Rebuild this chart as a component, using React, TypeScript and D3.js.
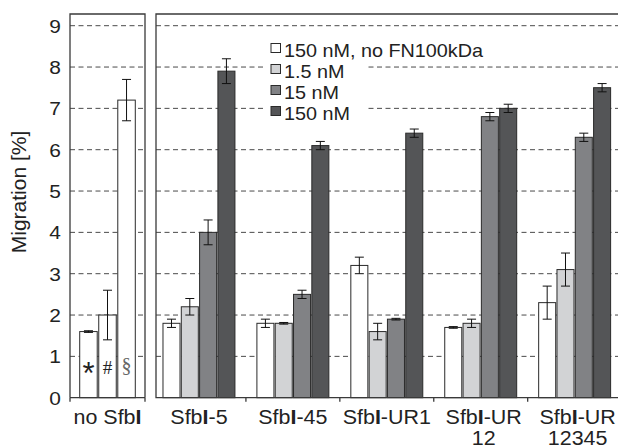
import React from "react";
import * as d3 from "d3";

// chart values
const yTicks = [0, 1, 2, 3, 4, 5, 6, 7, 8, 9];
const series = ["150 nM, no FN100kDa", "1.5 nM", "15 nM", "150 nM"];
const seriesColors = ["#ffffff", "#d2d3d5", "#818285", "#545557"];

const controlBars = ["*", "#", "§"];
const controlValues = [1.6, 2.0, 7.2];
const controlErrors = [0.02, 0.6, 0.5];

const groups = ["SfbI-5", "SfbI-45", "SfbI-UR1", "SfbI-UR12", "SfbI-UR12345"];
const groupLabels = [["SfbI-5"], ["SfbI-45"], ["SfbI-UR1"], ["SfbI-UR", "12"], ["SfbI-UR", "12345"]];
const noFN = [1.8, 1.8, 3.2, 1.7, 2.3];
const noFNErr = [0.1, 0.1, 0.2, 0.02, 0.4];
const nM1_5 = [2.2, 1.8, 1.6, 1.8, 3.1];
const nM1_5Err = [0.2, 0.02, 0.2, 0.1, 0.4];
const nM15 = [4.0, 2.5, 1.9, 6.8, 6.3];
const nM15Err = [0.3, 0.1, 0.02, 0.1, 0.1];
const nM150 = [7.9, 6.1, 6.4, 7.0, 7.5];
const nM150Err = [0.3, 0.1, 0.1, 0.1, 0.1];

const seriesValues = [noFN, nM1_5, nM15, nM150];
const seriesErrors = [noFNErr, nM1_5Err, nM15Err, nM150Err];

const W = 618;
const H = 448;
const top = 14;
const bottom = 397.7;
const leftL = 70;
const leftR = 145;
const rightL = 156;
const SX = 1.1; // the original glyphs are a bit stretched horizontally
const FONT = "'Liberation Sans', Arial, Helvetica, sans-serif";
const SERIF = "'Liberation Serif', 'Times New Roman', serif";

// label like "SfbI-5" with the capital I in bold
const SfbLabel = ({ s }: { s: string }) => {
  const i = s.indexOf("SfbI");
  if (i < 0) return <>{s}</>;
  return (
    <>
      {s.slice(0, i)}Sfb<tspan fontWeight="bold">I</tspan>{s.slice(i + 4)}
    </>
  );
};

export default function App() {
  const y = d3.scaleLinear().domain([0, 9]).range([bottom, 25.7]);

  const xCtrl = d3.scaleBand<string>().domain(["no SfbI"]).range([leftL, leftR]);
  const xCtrlInner = d3
    .scaleBand<string>()
    .domain(controlBars)
    .range([0, xCtrl.bandwidth()])
    .paddingInner(0.08)
    .paddingOuter(0.51);

  const x0 = d3.scaleBand<string>().domain(groups).range([152, 621.6]);
  const x1 = d3
    .scaleBand<string>()
    .domain(series)
    .range([0, x0.bandwidth()])
    .paddingInner(0.07)
    .paddingOuter(0.6);

  const errBar = (cx: number, v: number, e: number, key: string) => (
    <g key={key} stroke="#111" strokeWidth={1}>
      <line x1={cx} x2={cx} y1={y(v + e)} y2={y(v - e)} />
      <line x1={cx - 4.5} x2={cx + 4.5} y1={y(v + e)} y2={y(v + e)} />
      <line x1={cx - 4.5} x2={cx + 4.5} y1={y(v - e)} y2={y(v - e)} />
    </g>
  );

  const gridVals = yTicks.filter((t) => t > 0);
  const lx = 271;
  const ly0 = 50.5;
  const lStep = 21;

  return (
    <svg
      width={W}
      height={H}
      style={{ position: "absolute", left: 0, top: 0, background: "#fff" }}
      fontFamily={FONT}
    >
      <rect width={W} height={H} fill="#fff" />

      {/* gridlines */}
      <g stroke="#4a4a4a" strokeWidth={1} strokeDasharray="5,3.5">
        {gridVals.map((t) => (
          <line key={"gl" + t} x1={leftL} x2={leftR} y1={y(t)} y2={y(t)} />
        ))}
        {gridVals.map((t) => (
          <line key={"gr" + t} x1={rightL} x2={W} y1={y(t)} y2={y(t)} />
        ))}
      </g>

      {/* y tick labels */}
      {yTicks.map((t) => (
        <text
          key={"yt" + t}
          transform={`translate(61,${y(t)}) scale(${SX},1)`}
          dy="0.36em"
          textAnchor="end"
          fontSize={19}
          fill="#222"
        >
          {t}
        </text>
      ))}

      <text
        transform={`translate(26,192) rotate(-90)`}
        textAnchor="middle"
        fontSize={21}
        fill="#222"
      >
        Migration [%]
      </text>

      {/* control panel bars */}
      {controlBars.map((b, i) => {
        const bx = (xCtrl("no SfbI") ?? 0) + (xCtrlInner(b) ?? 0);
        const bw = xCtrlInner.bandwidth();
        return (
          <g key={"cb" + i}>
            <rect
              x={bx}
              y={y(controlValues[i])}
              width={bw}
              height={bottom - y(controlValues[i])}
              fill={seriesColors[0]}
              stroke="#2a2a2a"
              strokeWidth={1}
            />
            {errBar(bx + bw / 2, controlValues[i], controlErrors[i], "ce" + i)}
          </g>
        );
      })}
      {(() => {
        const cx = (b: string) =>
          (xCtrl("no SfbI") ?? 0) + (xCtrlInner(b) ?? 0) + xCtrlInner.bandwidth() / 2;
        return (
          <g>
            <text x={cx("*")} y={384} textAnchor="middle" fontSize={31} fill="#222">
              *
            </text>
            <text x={cx("#")} y={373.5} textAnchor="middle" fontSize={19} fontFamily={SERIF} fill="#222">
              #
            </text>
            <text x={cx("§")} y={372} textAnchor="middle" fontSize={20} fontFamily={SERIF} fill="#666">
              §
            </text>
          </g>
        );
      })()}

      {/* main bars */}
      {groups.map((g, gi) => (
        <g key={"g" + g} transform={`translate(${x0(g)},0)`}>
          {series.map((s, si) => {
            const v = seriesValues[si][gi];
            const bx = x1(s) ?? 0;
            return (
              <rect
                key={s}
                x={bx}
                y={y(v)}
                width={x1.bandwidth()}
                height={bottom - y(v)}
                fill={seriesColors[si]}
                stroke="#2a2a2a"
                strokeWidth={1}
              />
            );
          })}
          {series.map((s, si) =>
            errBar(
              (x1(s) ?? 0) + x1.bandwidth() / 2,
              seriesValues[si][gi],
              seriesErrors[si][gi],
              "e" + si
            )
          )}
        </g>
      ))}

      {/* panel frames */}
      <g stroke="#3a3a3a" strokeWidth={1.3} fill="none">
        <path d={`M${leftL},${bottom}V${top}H${leftR}V${bottom}`} />
        <line x1={leftL} x2={leftR} y1={bottom} y2={bottom} />
        <line x1={leftL} x2={leftL} y1={bottom} y2={bottom + 4} />
        <line x1={leftR} x2={leftR} y1={bottom} y2={bottom + 4} />
        <path d={`M${W + 2},${top}H${rightL}V${bottom}H${W + 2}`} />
        {groups.slice(1).map((g) => (
          <line key={"tk" + g} x1={x0(g)} x2={x0(g)} y1={bottom} y2={bottom + 4} />
        ))}
      </g>

      {/* legend */}
      <rect x={266} y={38} width={100} height={84} fill="#fff" />
      {series.map((s, i) => (
        <g key={"lg" + i}>
          <rect
            x={lx}
            y={ly0 + lStep * i - 7}
            width={9.5}
            height={9}
            fill={seriesColors[i]}
            stroke="#2a2a2a"
            strokeWidth={1}
          />
          <text
            transform={`translate(${lx + 13},${ly0 + lStep * i}) scale(${SX},1)`}
            dy="0.35em"
            fontSize={18}
            fill="#222"
          >
            {s}
          </text>
        </g>
      ))}

      {/* x labels */}
      <text
        transform={`translate(${(xCtrl("no SfbI") ?? 0) + xCtrl.bandwidth() / 2},424) scale(${SX},1)`}
        textAnchor="middle"
        fontSize={19.5}
        fill="#222"
      >
        <SfbLabel s="no SfbI" />
      </text>
      {groups.map((g, gi) =>
        groupLabels[gi].map((ln, li) => (
          <text
            key={"xl" + gi + "-" + li}
            transform={`translate(${(x0(g) ?? 0) + x0.bandwidth() / 2 + (groupLabels[gi].length > 1 ? 3 : 0)},${424 + li * 20.5}) scale(${SX},1)`}
            textAnchor="middle"
            fontSize={19.5}
            fill="#222"
          >
            <SfbLabel s={ln} />
          </text>
        ))
      )}
    </svg>
  );
}
